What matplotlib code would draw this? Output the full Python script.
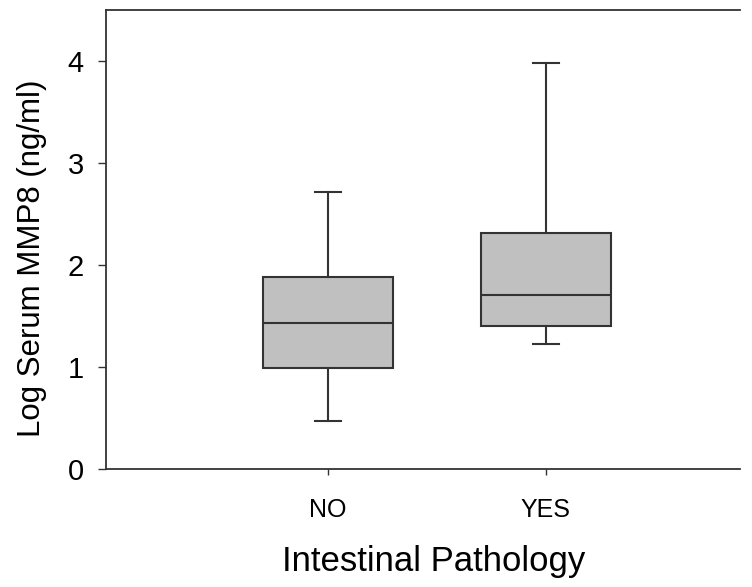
import matplotlib
matplotlib.use("Agg")
import matplotlib.pyplot as plt

plt.rcParams['font.family'] = ['Liberation Sans', 'DejaVu Sans']

categories = ["NO", "YES"]
whisker_low = [0.47, 1.23]
q1 = [0.99, 1.40]
median = [1.43, 1.71]
q3 = [1.88, 2.31]
whisker_high = [2.72, 3.98]
y_ticks = [0, 1, 2, 3, 4]

stats = [
    dict(label=c, whislo=lo, q1=a, med=m, q3=b, whishi=hi, fliers=[])
    for c, lo, a, m, b, hi in zip(categories, whisker_low, q1, median, q3, whisker_high)
]

fig = plt.figure(figsize=(7.52, 5.87), dpi=100)
ax = fig.add_axes([0.141, 0.201, 0.843, 0.782])

line_col = "#333333"
ax.bxp(
    stats, positions=[1, 2], widths=0.6, capwidths=0.12, patch_artist=True,
    boxprops=dict(facecolor="#c0c0c0", edgecolor=line_col, linewidth=1.5),
    medianprops=dict(color=line_col, linewidth=1.5),
    whiskerprops=dict(color=line_col, linewidth=1.5),
    capprops=dict(color=line_col, linewidth=1.5),
    showfliers=False,
)

ax.set_xlim(-0.018, 2.89)
ax.set_ylim(0, 4.5)
ax.set_yticks(y_ticks)
ax.set_xticks([1, 2])
ax.set_xticklabels(categories, fontsize=18)
ax.tick_params(axis='y', labelsize=21, length=6, width=1, color=line_col, pad=10)
ax.tick_params(axis='x', length=4, width=1, color=line_col, pad=17)

ax.spines['right'].set_visible(False)
for s in ('left', 'top', 'bottom'):
    ax.spines[s].set_color(line_col)
    ax.spines[s].set_linewidth(1.3)

ax.set_ylabel("Log Serum MMP8 (ng/ml)", fontsize=22.5)
ax.yaxis.set_label_coords(-0.093, 0.46)
ax.set_xlabel("Intestinal Pathology", fontsize=25)
ax.xaxis.set_label_coords(0.517, -0.165)

fig.savefig("out.png", dpi=100)
